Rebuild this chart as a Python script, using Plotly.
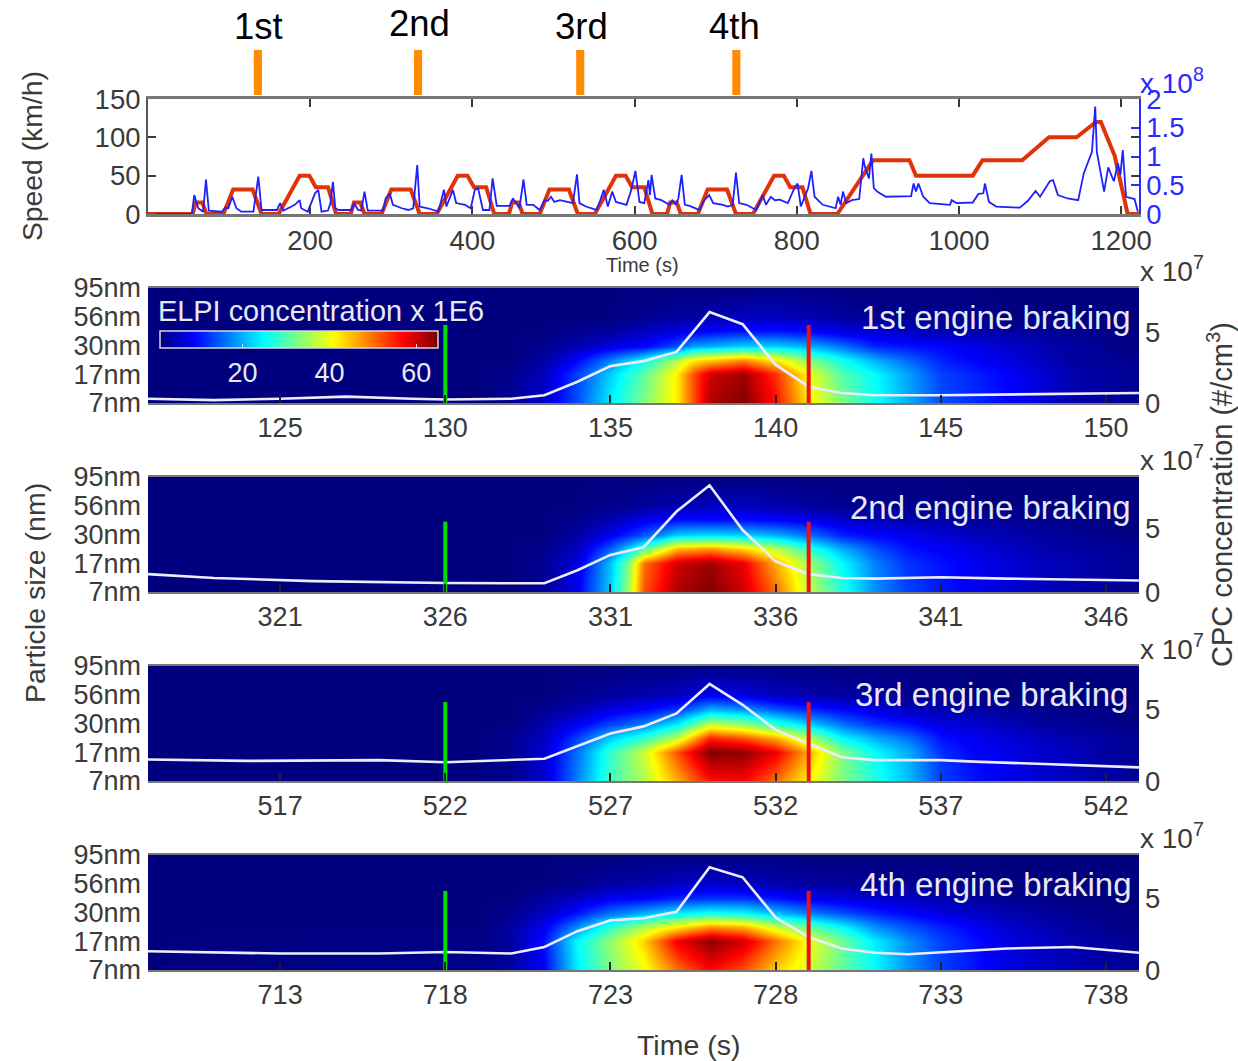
import plotly.graph_objects as go

W, H = 1238, 1061
FONT = "Liberation Sans"
GREY = "#3a3a3a"
BLUE = "#2a2aff"
LEFT, RIGHT = 148, 1139

# ---------- top drive-cycle panel ----------
speed_t = [0, 55, 59, 67, 72, 93, 105, 129, 140, 161, 187, 199, 207, 222, 232,
           250, 254, 262, 267, 288, 300, 324, 335, 356, 382, 394, 402, 417, 427,
           445, 449, 457, 462, 483, 495, 519, 530, 551, 577, 589, 597, 612, 622,
           640, 644, 652, 657, 678, 690, 714, 725, 746, 772, 784, 792, 807, 817,
           850, 894, 939, 947, 1017, 1029, 1078, 1111, 1145, 1169, 1175, 1192, 1208, 1222]
speed_v = [0, 0, 15, 15, 0, 0, 32, 32, 0, 0, 50, 50, 35, 35, 0,
           0, 15, 15, 0, 0, 32, 32, 0, 0, 50, 50, 35, 35, 0,
           0, 15, 15, 0, 0, 32, 32, 0, 0, 50, 50, 35, 35, 0,
           0, 15, 15, 0, 0, 32, 32, 0, 0, 50, 50, 35, 35, 0,
           0, 70, 70, 50, 50, 70, 70, 100, 100, 120, 120, 76, 0, 0]

cpc_t = [9, 54, 57, 62, 68, 71.5, 75, 91, 95, 99, 104, 109, 115, 130, 136, 140, 159, 163, 167, 177,
         181, 187, 189, 197, 206, 210, 214, 222, 225, 228, 231, 235, 251, 254, 259, 263, 267, 271,
         290, 293, 298, 302, 313, 321, 327, 332, 335, 345, 358, 365, 368, 376, 380, 391, 398, 403, 407,
         413, 421, 425, 430, 446, 450, 454, 458, 463, 467, 475, 483, 489, 493, 497, 501, 508, 524, 529,
         532, 540, 553, 557, 562, 567, 572.5, 577, 590, 596, 601, 606, 612, 617, 619, 621, 625.5, 633,
         643, 646.5, 651, 654, 658, 662, 668, 680, 686, 692, 697, 709, 715, 721, 725, 729, 738, 750, 758,
         762, 768, 773, 779, 789, 797, 801, 805, 814, 818, 822,
         832, 848, 851, 854, 857, 861, 868, 877, 882, 884, 889, 892, 895, 900, 910, 941, 944, 947, 950,
         956, 964, 989, 991, 997, 1017, 1024, 1030, 1032, 1037, 1046, 1075, 1085, 1094.5, 1100, 1112,
         1116, 1122, 1134, 1147, 1154, 1164, 1168, 1170, 1179, 1184, 1191, 1196, 1199, 1202, 1206, 1216.5, 1220.6]
cpc_v = [0, 0, .33, .1, .04, .6, .06, .04, .11, .1, .3, .1, .04, .04, .65, .07, .07, .19, .06, .13,
         .16, .24, .1, .04, .36, .42, .04, .06, .19, .56, .1, .07, .07, .19, .07, .06, .39, .06,
         .06, .27, .36, .16, .1, .07, .1, .85, .13, .1, .04, .42, .13, .42, .19, .16, .1, .42, .45,
         .07, .07, .62, .14, .14, .27, .19, .1, .6, .16, .16, .07, .24, .23, .3, .21, .24, .19, .69,
         .19, .13, .07, .21, .42, .13, .39, .21, .16, .42, .75, .21, .19, .59, .33, .68, .27, .24,
         .16, .24, .16, .27, .68, .16, .14, .07, .24, .33, .19, .16, .13, .16, .72, .19, .16, .07, .33,
         .16, .3, .24, .25, .19, .45, .53, .13, .45, .75, .3,
         .16, .1, .3, .16, .39, .19, .24, .26, .97, .82, .62, 1.05, .45, .38, .3, .31, .53, .39, .53,
         .3, .19, .16, .24, .19, .2, .35, .36, .53, .21, .13, .11, .23, .4, .3, .57,
         .59, .33, .27, .24, .71, 1.08, 1.87, 1.08, .39, .81, .57, .88, .68, 1.11, .3, .26, .04]

event_labels = ["1st", "2nd", "3rd", "4th"]
event_t = [135.5, 333, 533, 725.5]
speed_ticks = [0, 50, 100, 150]
cpc_ticks = [0, .5, 1, 1.5, 2]
cpc_tick_labels = ["0", "0.5", "1", "1.5", "2"]
time_ticks = [200, 400, 600, 800, 1000, 1200]

# ---------- heat maps: size rows and time columns ----------
size_levels = [0, 1, 1.5, 2, 2.5, 3, 4]
size_ticks = [0, 1, 2, 3, 4]
size_labels = ["7nm", "17nm", "30nm", "56nm", "95nm"]

p1_t = [121, 131, 132, 133, 134, 135, 136, 137, 137.5, 138, 139, 140, 141, 142, 143, 145, 147, 149, 151]
p1_z = [[1, 1, 1, 1, 1, 1, 1], [1, 1, 1, 1, 1, 1, 1], [2, 2, 1, 1, 1, 1, 1], [6, 5, 3, 2, 1, 1, 1],
        [14, 13, 9, 4, 2, 1, 1], [24, 22, 17, 7, 3, 1, 1], [33, 31, 25, 9, 5, 2, 1], [42, 42, 36, 14, 7, 3, 1],
        [52, 52, 42, 19, 8, 3, 1], [62, 60, 44, 20, 9, 4, 1], [65, 63, 48, 22, 10, 5, 1], [56, 54, 42, 22, 10, 5, 1.5],
        [42, 40, 33, 20, 9, 4, 1.5], [33, 30, 26, 16, 7, 3, 1], [26, 25, 20, 11, 6, 2, 1], [14, 13, 11, 9, 4, 2, 1],
        [9, 9, 7, 6, 3, 1, 1], [4, 4, 3, 3, 2, 1, 1], [2, 2, 2, 1, 1, 1, 1]]
p1_line_t = [121, 123, 125, 127, 129, 130, 132, 133, 134, 135, 136, 137, 138, 139, 140, 141, 142, 143, 145, 148, 151]
p1_line = [.3, .2, .3, .45, .3, .25, .3, .55, 1.5, 2.6, 2.95, 3.6, 6.4, 5.55, 2.7, 1.15, .7, .55, .55, .65, .7]

p2_t = [317, 328, 329, 330, 331, 331.5, 332, 333, 334, 335, 336, 337, 338, 339, 340, 342, 344, 347]
p2_z = [[1, 1, 1, 1, 1, 1, 1], [1, 1, 1, 1, 1, 1, 1], [3, 2, 2, 1, 1, 1, 1], [8, 7, 5, 3, 2, 1, 1],
        [22, 21, 15, 8, 4, 2, 1], [34, 32, 22, 11, 6, 2, 1], [52, 50, 30, 14, 8, 3, 1], [62, 60, 46, 22, 10, 4, 1],
        [65, 63, 48, 23, 10, 5, 1], [60, 58, 44, 22, 10, 5, 1], [50, 46, 37, 20, 9, 4, 1], [37, 35, 28, 16, 8, 3, 1],
        [27, 25, 20, 11, 6, 2, 1], [18, 17, 14, 9, 5, 2, 1], [13, 12, 10, 8, 4, 2, 1], [8, 8, 7, 5, 3, 1, 1],
        [5, 5, 4, 3, 2, 1, 1], [2, 2, 2, 1, 1, 1, 1]]
p2_line_t = [317, 319, 322, 326, 329, 330, 331, 332, 333, 334, 335, 336, 337, 338, 339, 341, 343, 345, 347]
p2_line = [1.4, 1.1, .85, .7, .68, 1.7, 2.9, 3.5, 6.3, 8.35, 4.85, 2.4, 1.4, 1.1, 1.05, 1.15, 1.05, 1, .9]

p3_t = [513, 523, 524, 525, 526, 527, 528, 529, 530, 531, 532, 533, 534, 535, 536, 537, 538, 540, 543]
p3_z = [[1, 1, 1, 1, 1, 1, 1], [1, 1, 1, 1, 1, 1, 1], [2, 2, 2, 1, 1, 1, 1], [6, 6, 5, 4, 2, 1, 1],
        [17, 16, 13, 8, 4, 2, 1], [29, 28, 22, 13, 7, 3, 1], [36, 38, 28, 17, 9, 4, 1], [46, 52, 37, 24, 12, 5, 1],
        [56, 65, 55, 37, 20, 8, 1], [57, 64, 52, 34, 18, 7, 1], [50, 58, 46, 28, 14, 5, 1], [41, 46, 36, 22, 11, 4, 1],
        [33, 33, 25, 16, 9, 3, 1], [27, 25, 20, 12, 7, 3, 1], [21, 20, 16, 10, 5, 2, 1], [13, 12, 10, 7, 4, 2, 1],
        [10, 9, 8, 6, 3, 1, 1], [6, 6, 5, 3, 2, 1, 1], [2, 2, 2, 1, 1, 1, 1]]
p3_line_t = [513, 516, 520, 522, 525, 526, 527, 528, 529, 530, 531, 532, 533, 534, 535, 537, 538, 540, 543]
p3_line = [1.5, 1.4, 1.45, 1.3, 1.55, 2.4, 3.3, 3.8, 4.7, 6.75, 5.3, 3.55, 2.6, 1.65, 1.45, 1.45, 1.35, 1.2, .95]

p4_t = [709, 719, 720, 721, 722, 723, 724, 725, 726, 727, 728, 729, 730, 731, 732, 733, 735, 737, 739]
p4_z = [[1, 1, 1, 1, 1, 1, 1], [1.5, 1.5, 1, 1, 1, 1, 1], [3, 3, 3, 2, 1, 1, 1], [9, 10, 8, 5, 3, 1, 1],
        [24, 25, 18, 10, 5, 2, 1], [33, 34, 28, 16, 8, 3, 1], [40, 44, 36, 20, 9, 4, 1], [50, 58, 42, 24, 11, 5, 1],
        [57, 64, 48, 26, 12, 6, 1], [52, 60, 46, 25, 12, 5, 1], [44, 50, 38, 21, 10, 4, 1], [38, 40, 31, 17, 8, 3, 1],
        [31, 32, 25, 14, 7, 3, 1], [25, 24, 18, 11, 6, 2, 1], [18, 18, 14, 9, 5, 2, 1], [13, 13, 11, 7, 4, 2, 1],
        [7, 7, 6, 4, 2, 1, 1], [4, 4, 3, 2, 1, 1, 1], [2, 2, 1, 1, 1, 1, 1]]
p4_line_t = [709, 713, 716, 718, 720, 721, 722, 723, 724, 725, 726, 727, 728, 729, 730, 731, 732, 733, 735, 737, 739]
p4_line = [1.3, 1.15, 1.15, 1.25, 1.15, 1.6, 2.7, 3.45, 3.6, 4.05, 7.15, 6.45, 3.65, 2.3, 1.5, 1.2, 1.1, 1.25, 1.5, 1.6, 1.2]

panel_titles = ["1st engine braking", "2nd engine braking", "3rd engine braking", "4th engine braking"]
panel_ranges = [(121, 151), (317, 347), (513, 543), (709, 739)]
panel_ticks = [[125, 130, 135, 140, 145, 150], [321, 326, 331, 336, 341, 346],
               [517, 522, 527, 532, 537, 542], [713, 718, 723, 728, 733, 738]]
start_marks = [130, 326, 522, 718]
end_marks = [141, 337, 533, 729]
mark_height = 5.5
cpc_tops = [8.1, 9.0, 8.0, 8.0]
cpc_panel_ticks = [0, 5]

panel_px = [(288, 403), (477, 592), (666, 781), (855, 970)]
title_px = [(859, 318), (848, 507), (853, 694), (858, 884)]
times = [p1_t, p2_t, p3_t, p4_t]
grids = [p1_z, p2_z, p3_z, p4_z]
line_ts = [p1_line_t, p2_line_t, p3_line_t, p4_line_t]
lines = [p1_line, p2_line, p3_line, p4_line]

JET = [[0, "#00007f"], [.125, "#0000ff"], [.375, "#00ffff"], [.625, "#ffff00"], [.875, "#ff0000"], [1, "#7f0000"]]


def dom_x():
    return [LEFT / W, RIGHT / W]


def dom_y(top, bottom):
    return [1 - bottom / H, 1 - top / H]


def tickfont(color=GREY, size=27.5):
    return dict(family=FONT, size=size, color=color)


fig = go.Figure()
layout = dict(
    width=W, height=H, margin=dict(l=0, r=0, t=0, b=0, autoexpand=False), showlegend=False,
    paper_bgcolor="white", plot_bgcolor="white",
    font=dict(family=FONT, color=GREY),
    coloraxis=dict(
        colorscale=JET, cmin=1, cmax=65,
        colorbar=dict(
            orientation="h", x=160 / W, xanchor="left", y=1 - 331 / H, yanchor="top",
            lenmode="pixels", len=278, thicknessmode="pixels", thickness=17, xpad=0, ypad=0,
            outlinecolor="#d8d8e8", outlinewidth=1.5, borderwidth=0, bgcolor="rgba(0,0,0,0)",
            tickvals=[20, 40, 60], ticks="inside", ticklen=4, tickcolor="#e8e8f0",
            tickfont=dict(family=FONT, size=27, color="#e8e8f0"),
        ),
    ),
    xaxis=dict(domain=dom_x(), range=[0, 1222], tickvals=time_ticks, ticks="inside", ticklen=8, tickwidth=1.5,
               tickcolor=GREY, showline=True, linecolor="#777777", linewidth=3, mirror="ticks",
               showgrid=False, zeroline=False, tickfont=tickfont(), anchor="y"),
    yaxis=dict(domain=dom_y(99, 214), range=[0, 150], tickvals=speed_ticks, ticks="inside", ticklen=8, tickwidth=1.5,
               tickcolor=GREY, showline=True, linecolor="#555555", linewidth=2, mirror="ticks",
               showgrid=False, zeroline=False, tickfont=tickfont(), anchor="x"),
    yaxis2=dict(domain=dom_y(99, 214), range=[0, 2], overlaying="y", side="right", anchor="x",
                tickvals=cpc_ticks, ticktext=cpc_tick_labels, ticks="inside", ticklen=8, tickwidth=1.5,
                tickcolor=BLUE, showline=True, linecolor=BLUE, linewidth=1.5, showgrid=False, zeroline=False,
                tickfont=tickfont(BLUE)),
)

fig.add_trace(go.Scatter(x=speed_t, y=speed_v, mode="lines", xaxis="x", yaxis="y",
                         line=dict(color="#e03408", width=4, simplify=False)))
fig.add_trace(go.Scatter(x=cpc_t, y=cpc_v, mode="lines", xaxis="x", yaxis="y2",
                         line=dict(color="#2020ff", width=1.8, simplify=False)))

annotations = []
shapes = []


def note(text, px, py, size=27, color=GREY, xanchor="center", angle=0):
    annotations.append(dict(text=text, x=px / W, y=1 - py / H, xref="paper", yref="paper", showarrow=False,
                            xanchor=xanchor, yanchor="middle", textangle=angle,
                            font=dict(family=FONT, size=size, color=color)))


for i in range(4):
    xid, yid, y2id = f"x{i + 2}", f"y{3 + 2 * i}", f"y{4 + 2 * i}"
    top, bottom = panel_px[i]
    layout[f"xaxis{i + 2}"] = dict(domain=dom_x(), range=list(panel_ranges[i]), tickvals=panel_ticks[i], ticks="inside",
                                   ticklen=8, tickwidth=1.5, tickcolor="#222222", showline=True, linecolor="#777777",
                                   linewidth=1.5, mirror=True, showgrid=False, zeroline=False,
                                   tickfont=tickfont(size=27), anchor=yid)
    layout[f"yaxis{3 + 2 * i}"] = dict(domain=dom_y(top, bottom), range=[0, 4], tickvals=size_ticks, ticktext=size_labels,
                                       ticks="", ticklabelstandoff=6, showgrid=False, zeroline=False,
                                       tickfont=tickfont(size=27), anchor=xid)
    layout[f"yaxis{4 + 2 * i}"] = dict(domain=dom_y(top, bottom), range=[0, cpc_tops[i]], overlaying=yid, side="right",
                                       anchor=xid, tickvals=cpc_panel_ticks, ticks="", ticklabelstandoff=5,
                                       showgrid=False, zeroline=False, tickfont=tickfont())
    z = [list(r) for r in zip(*grids[i])]
    fig.add_trace(go.Heatmap(x=times[i], y=size_levels, z=z, coloraxis="coloraxis", zsmooth="best",
                             xaxis=xid, yaxis=yid, hoverinfo="skip"))
    fig.add_trace(go.Scatter(x=line_ts[i], y=lines[i], mode="lines", xaxis=xid, yaxis=y2id,
                             line=dict(color="#ecebff", width=2.6)))
    fig.add_trace(go.Scatter(x=[start_marks[i]] * 2, y=[0, mark_height], mode="lines", xaxis=xid, yaxis=y2id,
                             line=dict(color="#00dd00", width=4)))
    fig.add_trace(go.Scatter(x=[end_marks[i]] * 2, y=[0, mark_height], mode="lines", xaxis=xid, yaxis=y2id,
                             line=dict(color="#f01010", width=4)))
    note(panel_titles[i], title_px[i][0], title_px[i][1], size=33, color="#e8e8f0", xanchor="left")
    note("x 10<sup>7</sup>", 1172, top - 19, size=28)

for lab, t, px, py in zip(event_labels, event_t, [258, 420, 581, 734], [26, 24, 27, 26]):
    note(lab, px, py, size=36.5, color="#000000")
    shapes.append(dict(type="rect", xref="x", yref="paper", x0=t - 5, x1=t + 5,
                       y0=1 - 95 / H, y1=1 - 50 / H, fillcolor="#ff8c00", line=dict(width=0)))

note("x 10<sup>8</sup>", 1172, 81, size=28, color=BLUE)
note("Time (s)", 642, 265, size=20)
note("Time (s)", 688, 1045, size=28.5)
note("Speed (km/h)", 32, 156, size=28.3, angle=-90)
note("Particle size (nm)", 35, 593, size=28.5, angle=-90)
note("CPC concentration (#/cm<sup>3</sup>)", 1220, 495, size=29, angle=-90)
note("ELPI concentration x 1E6", 156, 311, size=28.9, color="#e8e8f0", xanchor="left")

layout["annotations"] = annotations
layout["shapes"] = shapes
fig.update_layout(**layout)
fig.write_html("out.html", post_script="document.body.style.margin='0';", config=dict(displayModeBar=False))
